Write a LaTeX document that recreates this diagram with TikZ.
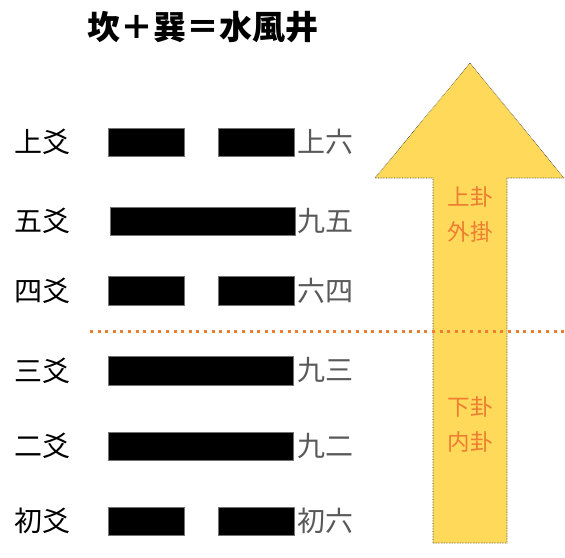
\documentclass[tikz,border=0pt]{standalone}
\usepackage{fontspec}
\newfontfamily\cjk{Noto Sans CJK JP}
\definecolor{arrowyellow}{HTML}{FFD95A}
\definecolor{divorange}{HTML}{ED7D31}
\definecolor{labelgray}{HTML}{595959}
\begin{document}
\begin{tikzpicture}[x=1pt,y=-1pt,
  bar/.style={fill=black, draw=black!55, line width=0.5pt, inner sep=0pt, minimum height=28.5pt},
  yangbar/.style={bar, minimum width=185pt},
  yinbar/.style={bar, minimum width=76pt},
  leftlabel/.style={font=\cjk\fontsize{28}{28}\selectfont, inner sep=0pt, text=black},
  rightlabel/.style={font=\cjk\fontsize{28}{28}\selectfont, inner sep=0pt, text=labelgray, anchor=west},
  arrowtext/.style={font=\cjk\fontsize{22.5}{35}\selectfont, inner sep=0pt, text=divorange, align=center},
  titletext/.style={font=\cjk\bfseries\fontsize{33}{33}\selectfont, inner sep=0pt}]
\useasboundingbox (0,0) rectangle (565,557);

% arrow
\draw[fill=arrowyellow, draw=black!80, densely dotted, line width=0.6pt]
  (433,543) -- (433,178) -- (375,178) -- (470,63) -- (564,178) -- (507,178) -- (507,543) -- cycle;

% title
\node[titletext] (title) at (203,27) {坎＋巽＝水風井};

% lines
\node[yinbar]  (l6a) at (146,142) {};
\node[yinbar]  (l6b) at (256,142) {};
\node[yangbar] (l5)  at (202.5,221) {};
\node[yinbar]  (l4a) at (146,290.5) {};
\node[yinbar]  (l4b) at (256,290.5) {};
\node[yangbar] (l3)  at (200.5,370.5) {};
\node[yangbar] (l2)  at (200.5,446) {};
\node[yinbar]  (l1a) at (146,521) {};
\node[yinbar]  (l1b) at (256,521) {};

% left labels
\node[leftlabel] (n6) at (42.5,142) {上爻};
\node[leftlabel] (n5) at (42.5,221) {五爻};
\node[leftlabel] (n4) at (42.5,290.5) {四爻};
\node[leftlabel] (n3) at (42.5,370.5) {三爻};
\node[leftlabel] (n2) at (42.5,446) {二爻};
\node[leftlabel] (n1) at (42.5,521) {初爻};

% right labels
\node[rightlabel] (r6) at (297,142) {上六};
\node[rightlabel] (r5) at (297,221) {九五};
\node[rightlabel] (r4) at (297,290.5) {六四};
\node[rightlabel] (r3) at (297,370.5) {九三};
\node[rightlabel] (r2) at (297,446) {九二};
\node[rightlabel] (r1) at (297,521) {初六};

% arrow texts
\node[arrowtext] (upper) at (470,214.5) {上卦\\外掛};
\node[arrowtext] (lower) at (470,424.5) {下卦\\内卦};

% divider
\coordinate (divL) at (90,331);
\coordinate (divR) at (565,331);
\draw[divorange, line width=3pt, dash pattern=on 3pt off 4.6pt] (divL) -- (divR);
\end{tikzpicture}
\end{document}
